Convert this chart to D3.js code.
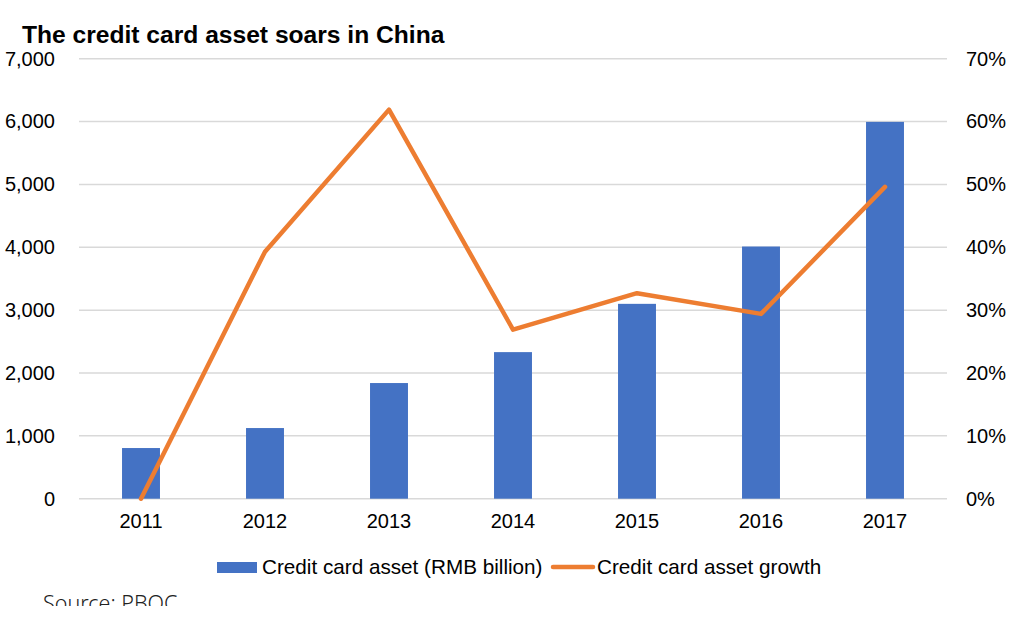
<!DOCTYPE html>
<html>
<head>
<meta charset="utf-8">
<script src="https://cdnjs.cloudflare.com/ajax/libs/d3/7.8.5/d3.min.js"></script>
<style>
  body { margin: 0; background: #fff; }
  text { font-family: Arial, "Liberation Sans", sans-serif; fill: #000; }
</style>
</head>
<body>
<div id="chart"></div>
<script>
const years = ['2011', '2012', '2013', '2014', '2015', '2016', '2017'];
const assets = [806, 1124, 1840, 2332, 3100, 4012, 5995];
const growth = [0.0, 0.393, 0.619, 0.269, 0.327, 0.294, 0.496];
const leftTicks = [0, 1000, 2000, 3000, 4000, 5000, 6000, 7000];
const rightTicks = [0, 0.1, 0.2, 0.3, 0.4, 0.5, 0.6, 0.7];

const w = 1011;
const h = 621;
const plotLeft = 79, plotRight = 947, plotTop = 58.7, plotBottom = 498.7;

const svg = d3.select('#chart')
  .append('svg')
  .attr('width', w)
  .attr('height', h);

const xScale = d3.scaleBand()
  .domain(years)
  .range([plotLeft, plotRight])
  .paddingInner(0.694)
  .paddingOuter(0.347);

const yLeft = d3.scaleLinear().domain([0, 7000]).range([plotBottom, plotTop]);
const yRight = d3.scaleLinear().domain([0, 0.7]).range([plotBottom, plotTop]);

// gridlines
svg.append('g')
  .selectAll('line')
  .data(leftTicks)
  .enter()
  .append('line')
  .attr('x1', plotLeft)
  .attr('x2', plotRight)
  .attr('y1', d => yLeft(d))
  .attr('y2', d => yLeft(d))
  .attr('stroke', '#d9d9d9')
  .attr('stroke-width', 1.5);

// left axis labels
const fmt = d3.format(',');
svg.append('g')
  .attr('transform', `translate(55,0)`)
  .call(d3.axisLeft(yLeft).tickValues(leftTicks).tickFormat(fmt).tickSize(0).tickPadding(0))
  .call(g => g.select('.domain').remove())
  .selectAll('text')
  .attr('font-size', 20)
  .attr('font-family', 'Arial, "Liberation Sans", sans-serif')
  .attr('fill', '#000');

// right axis labels
svg.append('g')
  .attr('transform', `translate(966,0)`)
  .call(d3.axisRight(yRight).tickValues(rightTicks).tickFormat(d3.format('.0%')).tickSize(0).tickPadding(0))
  .call(g => g.select('.domain').remove())
  .selectAll('text')
  .attr('font-size', 20)
  .attr('font-family', 'Arial, "Liberation Sans", sans-serif')
  .attr('fill', '#000');

// x axis labels
svg.append('g')
  .attr('transform', `translate(0,${plotBottom})`)
  .call(d3.axisBottom(xScale).tickSize(0).tickPadding(15))
  .call(g => g.select('.domain').remove())
  .selectAll('text')
  .attr('font-size', 20)
  .attr('font-family', 'Arial, "Liberation Sans", sans-serif')
  .attr('fill', '#000');

// bars
svg.append('g')
  .selectAll('rect')
  .data(assets)
  .enter()
  .append('rect')
  .attr('x', (d, i) => xScale(years[i]))
  .attr('y', d => yLeft(d))
  .attr('width', xScale.bandwidth())
  .attr('height', d => plotBottom - yLeft(d))
  .attr('fill', '#4472c4');

// growth line
const line = d3.line()
  .x((d, i) => xScale(years[i]) + xScale.bandwidth() / 2)
  .y(d => yRight(d));

svg.append('path')
  .datum(growth)
  .attr('d', line)
  .attr('fill', 'none')
  .attr('stroke', '#ed7d31')
  .attr('stroke-width', 4.5)
  .attr('stroke-linejoin', 'round')
  .attr('stroke-linecap', 'round');

// title
svg.append('text')
  .attr('x', 22)
  .attr('y', 42.5)
  .attr('font-size', 24.6)
  .attr('font-weight', 'bold')
  .text('The credit card asset soars in China');

// legend
const legend = svg.append('g');
legend.append('rect')
  .attr('x', 217).attr('y', 562)
  .attr('width', 40).attr('height', 11)
  .attr('fill', '#4472c4');
legend.append('text')
  .attr('x', 262).attr('y', 574)
  .attr('font-size', 20.7)
  .text('Credit card asset (RMB billion)');
legend.append('line')
  .attr('x1', 553).attr('x2', 593)
  .attr('y1', 567).attr('y2', 567)
  .attr('stroke', '#ed7d31')
  .attr('stroke-width', 4.5)
  .attr('stroke-linecap', 'round');
legend.append('text')
  .attr('x', 597).attr('y', 574)
  .attr('font-size', 20.7)
  .text('Credit card asset growth');

// source note, cut at the bottom like the original
svg.append('clipPath')
  .attr('id', 'srcclip')
  .append('rect')
  .attr('x', 0).attr('y', 580).attr('width', 300).attr('height', 26);
svg.append('text')
  .attr('clip-path', 'url(#srcclip)')
  .attr('x', 43).attr('y', 611)
  .attr('font-size', 21.5)
  .attr('font-weight', 300)
  .style('font-family', '"Noto Sans", "Open Sans", sans-serif')
  .style('fill', '#222')
  .text('Source: PBOC');
</script>
</body>
</html>
